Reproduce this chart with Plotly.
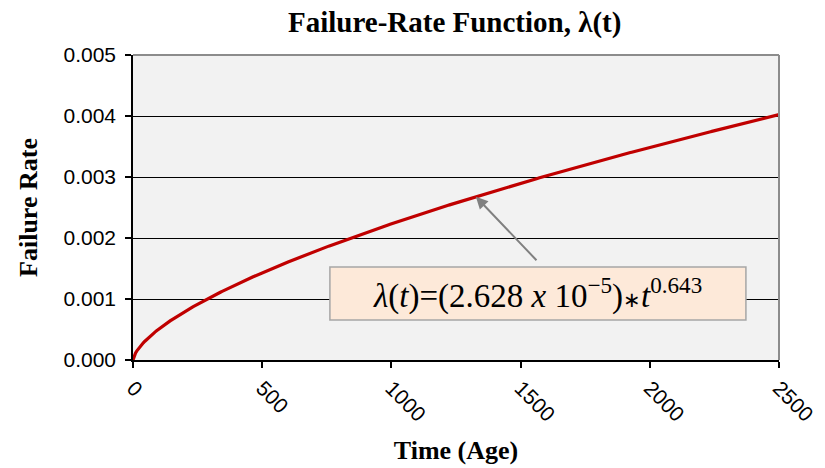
import numpy as np
import plotly.graph_objects as go

# Power-law failure-rate model: lambda(t) = a * t^b
coef_a = 2.628e-5
exponent_b = 0.643
t_max = 2500

x_ticks = [0, 500, 1000, 1500, 2000, 2500]
y_ticks = [0.000, 0.001, 0.002, 0.003, 0.004, 0.005]

t = np.linspace(0, t_max, 501)
rate = coef_a * t ** exponent_b

t_arrow = 1327
rate_arrow = coef_a * t_arrow ** exponent_b

fig = go.Figure()
fig.add_trace(go.Scatter(
    x=t, y=rate, mode="lines",
    line=dict(color="#c00000", width=3.2),
    hoverinfo="skip", showlegend=False,
))

serif = "Liberation Serif, Times New Roman, serif"
sans = "Liberation Sans, Arial, sans-serif"

fig.update_layout(
    width=825, height=468,
    margin=dict(l=133, r=46, t=55, b=108),
    paper_bgcolor="white",
    plot_bgcolor="#f2f2f2",
    title=dict(
        text="<b>Failure-Rate Function, λ(t)</b>",
        x=0.498, xref="paper", xanchor="center",
        y=0.953, yref="container", yanchor="middle",
        font=dict(family=serif, size=29, color="black"),
    ),
    xaxis=dict(
        range=[0, t_max], tickvals=x_ticks, tickangle=45,
        automargin=False,
        showgrid=False, zeroline=False,
        showline=True, linecolor="black", linewidth=1.5,
        ticks="outside", ticklen=6, tickcolor="black", tickwidth=1.5,
        tickfont=dict(family=sans, size=21, color="black"),
        title=dict(text="<b>Time (Age)</b>", font=dict(family=serif, size=26, color="black"), standoff=16),
    ),
    yaxis=dict(
        range=[0, 0.005], tickvals=y_ticks, tickformat=".3f",
        automargin=False,
        showgrid=True, gridcolor="black", gridwidth=1,
        zeroline=False,
        showline=True, linecolor="black", linewidth=1.5,
        ticks="outside", ticklen=6, tickcolor="black", tickwidth=1.5,
        ticklabelstandoff=5,
        tickfont=dict(family=sans, size=21, color="black"),
        title=dict(text="<b>Failure Rate</b>", font=dict(family=serif, size=26, color="black"), standoff=18),
    ),
)

# Gray frame on the top and right edges of the plot area
fig.add_shape(type="line", xref="paper", yref="paper", x0=0, x1=1, y0=1, y1=1,
              line=dict(color="#8c8c8c", width=2))
fig.add_shape(type="line", xref="paper", yref="paper", x0=1, x1=1, y0=0, y1=1,
              line=dict(color="#8c8c8c", width=2))

# Equation callout box
fig.add_shape(type="rect", xref="x", yref="y",
              x0=762, x1=2372, y0=0.000656, y1=0.001525,
              fillcolor="#fde9d9", line=dict(color="#a6a6a6", width=1.5), layer="above")
fig.add_annotation(
    x=1567, y=0.00109, xref="x", yref="y", showarrow=False,
    text=("<i>λ</i>(<i>t</i>)=(2.628 <i>x</i> 10<sup>−5</sup>)"
          "<span style='font-size:21px'>∗</span><i>t</i><sup>0.643</sup>"),
    font=dict(family=serif, size=33, color="black"),
)
fig.add_annotation(
    x=t_arrow, y=rate_arrow, xref="x", yref="y",
    ax=62, ay=65, showarrow=True,
    arrowhead=2, arrowsize=1.2, arrowwidth=2, arrowcolor="#808080",
    text="",
)

fig.write_html("out.html")
